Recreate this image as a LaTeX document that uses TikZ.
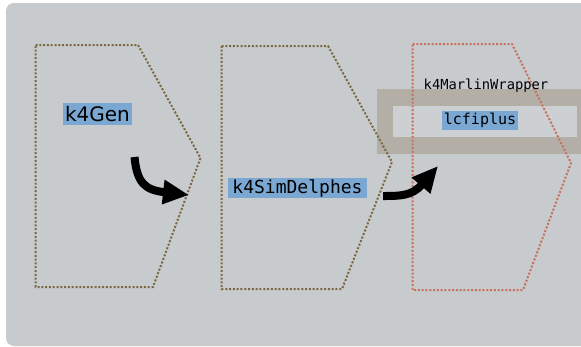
\documentclass[tikz,border=0pt]{standalone}
\usepackage{fontspec}
\setmonofont{DejaVu Sans Mono}
\newfontfamily\gensans{DejaVu Sans}
\usetikzlibrary{arrows.meta}
\definecolor{bggray}{HTML}{C8CBCE}
\definecolor{brownline}{HTML}{7A6840}
\definecolor{redline}{HTML}{C8705A}
\definecolor{bandgray}{HTML}{B3AFA7}
\definecolor{innergray}{HTML}{CDD0D2}
\definecolor{hlblue}{HTML}{7BA7D3}
\tikzset{
  stage/.style={draw=brownline, line width=2pt, dash pattern=on 2pt off 1.8pt},
  stagered/.style={draw=redline, line width=2pt, dash pattern=on 2pt off 1.8pt},
  hl/.style={fill=hlblue, inner sep=1.5pt, outer sep=0pt, font=\ttfamily},
  flow/.style={line width=8pt, -{Triangle[length=26pt,width=23pt]}},
}
\begin{document}
\begin{tikzpicture}[x=1pt,y=-1pt]
\useasboundingbox (0,0) rectangle (581,346);
\fill[white] (0,0) rectangle (581,346);
\fill[bggray, rounded corners=8pt] (6,3) rectangle (600,346);
% band of k4MarlinWrapper
\fill[bandgray] (377,89) rectangle (581,154);
\fill[innergray] (393,106) rectangle (577,137);
% stages
\draw[stage] (35.5,45) -- (138,45) -- (200.5,158) -- (153,287) -- (35.5,287) -- cycle;
\draw[stage] (221.5,46) -- (328,46) -- (392,162) -- (342,289) -- (221.5,289) -- cycle;
\draw[stagered] (412.5,44) -- (512,44) -- (571,163) -- (523,290) -- (412.5,290) -- cycle;
% labels
\node[hl, font=\gensans\fontsize{20}{24}\selectfont, inner xsep=2.5pt, inner ysep=3pt] (gen) at (97.5,114) {k4Gen};
\node[hl, font=\ttfamily\fontsize{18}{21}\selectfont, inner xsep=4pt, inner ysep=1.5pt] (sim) at (297.5,188) {k4SimDelphes};
\node[font=\ttfamily\fontsize{13.8}{16}\selectfont, inner sep=0pt] (wrap) at (486,86) {k4MarlinWrapper};
\node[hl, font=\ttfamily\fontsize{15}{18}\selectfont, inner xsep=2pt, inner ysep=2pt] (lcfi) at (480,120.5) {lcfiplus};
% arrows
\coordinate (a1s) at (134.5,157);
\coordinate (a1e) at (189,195);
\coordinate (a2s) at (383,196);
\coordinate (a2e) at (438,166);
\draw[flow] (a1s) .. controls (137,183) and (145,190) .. (a1e);
\draw[flow] (a2s) .. controls (400,196) and (412,196) .. (a2e);
\end{tikzpicture}
\end{document}
